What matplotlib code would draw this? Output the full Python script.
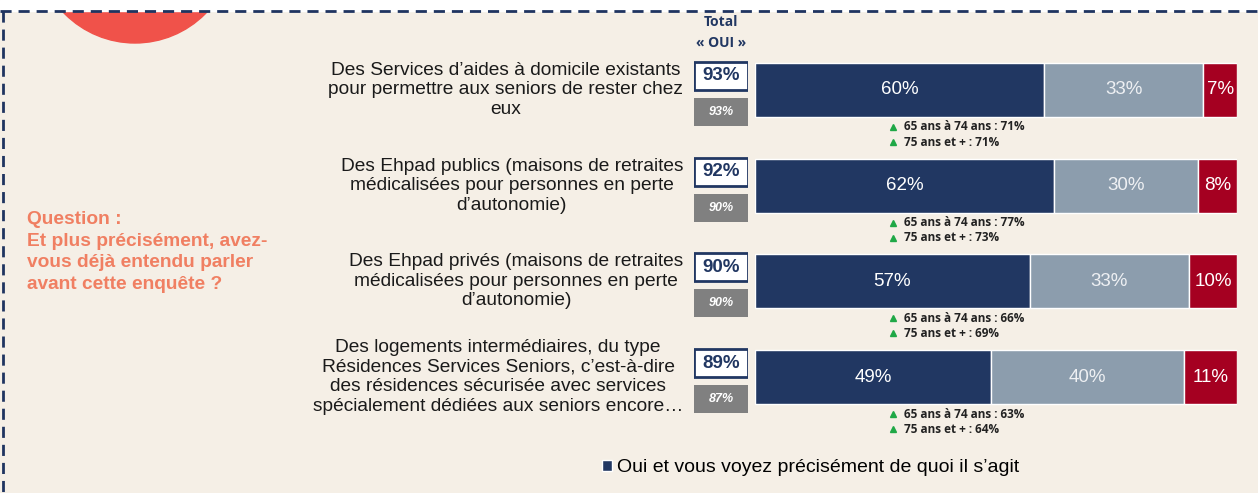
import numpy as np
import matplotlib
matplotlib.use("Agg")
from matplotlib import pyplot as plt
from matplotlib import patches
from matplotlib.lines import Line2D

# data
labels = [
    "Des Services d’aides à domicile existants\npour permettre aux seniors de rester chez\neux",
    "Des Ehpad publics (maisons de retraites\nmédicalisées pour personnes en perte\nd’autonomie)",
    "Des Ehpad privés (maisons de retraites\nmédicalisées pour personnes en perte\nd’autonomie)",
    "Des logements intermédiaires, du type\nRésidences Services Seniors, c’est-à-dire\ndes résidences sécurisée avec services\nspécialement dédiées aux seniors encore…",
]
total_oui = [93, 92, 90, 89]
previous_oui = [93, 90, 90, 87]
precise = [60, 62, 57, 49]
vague = [33, 30, 33, 40]
non = [7, 8, 10, 11]
age_65_74 = [71, 77, 66, 63]
age_75_plus = [71, 73, 69, 64]
legend_label = "Oui et vous voyez précisément de quoi il s’agit"

W, H = 1258, 493
bg = "#F5EFE6"
navy = "#213762"
grey_blue = "#8C9DAD"
red = "#A50021"
salmon = "#F07F62"

plt.rcParams["font.family"] = ["Liberation Sans", "DejaVu Sans"]

fig = plt.figure(figsize=(W / 100, H / 100), dpi=100, facecolor=bg)

# background decorations in pixel coords
ax_bg = fig.add_axes([0, 0, 1, 1], zorder=-5)
ax_bg.set_xlim(0, W)
ax_bg.set_ylim(H, 0)
ax_bg.axis("off")
ax_bg.add_patch(patches.Circle((135, -56), 99, color="#F0524A", zorder=1))
ax_bg.add_patch(patches.Rectangle((0, 0), W, 11, color="white", zorder=2))
ax_bg.add_line(Line2D([0, W], [11, 11], color="#1F3460", lw=2, ls=(0, (4, 2.5)), zorder=3))
ax_bg.add_line(Line2D([3, 3], [11, H], color="#1F3460", lw=2, ls=(0, (4, 2.5)), zorder=3))


def fx(px):
    return px / W


def fy(py):
    return 1 - py / H


# bar axes: bar centres at 90 and 377 px
step = (377 - 90) / 3
top_px = 90 - step / 2
bot_px = 377 + step / 2
ax = fig.add_axes([fx(755), fy(bot_px), fx(1237) - fx(755), fy(top_px) - fy(bot_px)])
ax.set_xlim(0, 100)
ax.set_ylim(3.5, -0.5)
ax.axis("off")

y = np.arange(len(labels))
bh = 54 / step
b1 = ax.barh(y, precise, height=bh, color=navy, edgecolor="white", lw=1)
b2 = ax.barh(y, vague, left=precise, height=bh, color=grey_blue, edgecolor="white", lw=1)
left3 = np.array(precise) + np.array(vague)
b3 = ax.barh(y, non, left=left3, height=bh, color=red, edgecolor="white", lw=1)

for i in range(len(labels)):
    ax.text(precise[i] / 2, y[i], f"{precise[i]}%", color="white", ha="center", va="center", fontsize=13.5)
    ax.text(precise[i] + vague[i] / 2, y[i], f"{vague[i]}%", color="#EEF0F3", ha="center", va="center",
            fontsize=13.5)
    ax.text(left3[i] + non[i] / 2, y[i], f"{non[i]}%", color="white", ha="center", va="center",
            fontsize=13.5)
    ax.plot(28.7, y[i] + 37 / step, marker="^", color="#1FA846", ms=4.5, clip_on=False)
    ax.plot(28.7, y[i] + 52 / step, marker="^", color="#1FA846", ms=4.5, clip_on=False)
    ax.text(31.0, y[i] + 37 / step, f"65 ans à 74 ans : {age_65_74[i]}%", fontsize=8.5, fontweight="bold",
            family=["Open Sans", "DejaVu Sans"], color="#222222", va="center")
    ax.text(31.0, y[i] + 52 / step, f"75 ans et + : {age_75_plus[i]}%", fontsize=8.5, fontweight="bold",
            family=["Open Sans", "DejaVu Sans"], color="#222222", va="center")

# total column
ax_t = fig.add_axes([fx(694), fy(bot_px), fx(748) - fx(694), fy(top_px) - fy(bot_px)])
ax_t.set_xlim(0, 1)
ax_t.set_ylim(3.5, -0.5)
ax_t.axis("off")
box_h = 28 / step
ax_t.barh(y - 14 / step, 1, height=box_h, color="white", edgecolor=navy, lw=2)
ax_t.barh(y + 22 / step, 1, height=box_h, color="#808080")
for i in range(len(labels)):
    ax_t.text(0.5, y[i] - 14 / step, f"{total_oui[i]}%", color=navy, ha="center", va="center",
              fontsize=13.5, fontweight="bold")
    ax_t.text(0.5, y[i] + 22 / step, f"{previous_oui[i]}%", color="white", ha="center", va="center",
              fontsize=9, fontstyle="italic", fontweight="bold")
    ax_t.text(-0.2, y[i], labels[i], ha="right", va="center", multialignment="center",
              fontsize=13.8, color="#1A1A1A", linespacing=1.2)

fig.text(fx(721), fy(22), "Total", ha="center", va="center", fontsize=10, fontweight="bold",
         color=navy, family=["Open Sans", "DejaVu Sans"])
fig.text(fx(721), fy(43), "« OUI »", ha="center", va="center", fontsize=10, fontweight="bold",
         color=navy, family=["Open Sans", "DejaVu Sans"])

fig.text(fx(27), fy(252), "Question :\nEt plus précisément, avez-\nvous déjà entendu parler\navant cette enquête ?",
         ha="left", va="center", fontsize=13.8, fontweight="bold", color=salmon, linespacing=1.38)

fig.legend(handles=[b1], labels=[legend_label], loc="center left",
           bbox_to_anchor=(fx(602), fy(468)), frameon=False, fontsize=14,
           handlelength=0.5, handleheight=0.5, handletextpad=0.25, borderpad=0, borderaxespad=0)

fig.savefig("out.png", dpi=100, facecolor=bg)
